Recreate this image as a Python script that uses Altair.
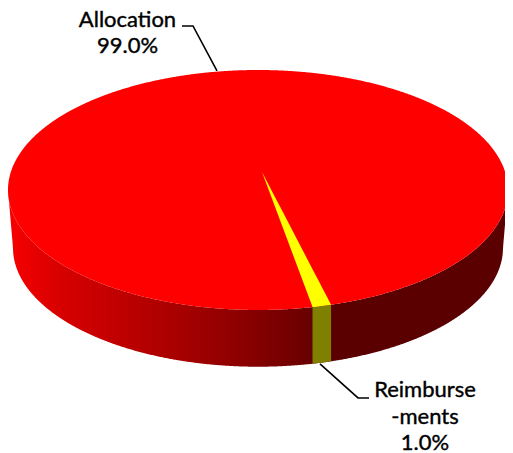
import math
import altair as alt
import pandas as pd

# Values
slices = ["Allocation", "Reimbursements"]
shares = [99.0, 1.0]

# Disc geometry in disc units (rim half-width = 1, rim half-depth = 1)
START_DEG = 12.6        # start of the small slice, measured from the front of the disc
FORESHORTEN = 1.22      # perspective widening of the front slice
APEX_X, APEX_Y = 0.016, 0.15
WALL_CY, WALL_A, WALL_B = -0.483, 0.98, 0.99

leader_a_x = [-0.304, -0.260, -0.164]
leader_a_y = [1.367, 1.367, 0.992]
leader_b_x = [0.248, 0.400, 0.444]
leader_b_y = [-1.450, -1.733, -1.733]

label_text = ["Allocation", "99.0%", "Reimburse", "-ments", "1.0%"]
label_x = [-0.522, -0.522, 0.668, 0.668, 0.668]
label_y = [1.358, 1.142, -1.725, -1.950, -2.167]

X = alt.Scale(domain=[-1, 1], range=[0, 500], nice=False, zero=False)
Y = alt.Scale(domain=[-2.192, 1.5167], range=[445, 0], nice=False, zero=False)
ex = alt.X("x:Q", scale=X, axis=None)
ey = alt.Y("y:Q", scale=Y, axis=None)
ey2 = alt.Y2("y2:Q")


def rim(x):
    return math.sqrt(max(0.0, 1 - x * x))


def wall_bottom(x):
    if abs(x) >= WALL_A:
        return WALL_CY * (1 - abs(x)) / (1 - WALL_A)
    return WALL_CY - WALL_B * math.sqrt(1 - (x / WALL_A) ** 2)


steps = [-math.cos(math.pi * i / 720) for i in range(721)]
disc = pd.DataFrame({"x": steps, "y": [rim(v) for v in steps], "y2": [-rim(v) for v in steps]})
wall = pd.DataFrame({"x": steps, "y": [-rim(v) for v in steps], "y2": [wall_bottom(v) for v in steps]})

t0 = math.radians(START_DEG)
t1 = t0 + math.radians(shares[1] / 100 * 360 * FORESHORTEN)
x0, x1 = math.sin(t0), math.sin(t1)
y0, y1 = -math.cos(t0), -math.cos(t1)

wedge_rows = []
for i in range(11):
    x = APEX_X + (x0 - APEX_X) * i / 10
    f = x - APEX_X
    wedge_rows.append({
        "x": x,
        "y": APEX_Y + (y0 - APEX_Y) * f / (x0 - APEX_X),
        "y2": APEX_Y + (y1 - APEX_Y) * f / (x1 - APEX_X),
    })
for i in range(1, 11):
    x = x0 + (x1 - x0) * i / 10
    wedge_rows.append({
        "x": x,
        "y": -rim(x),
        "y2": APEX_Y + (y1 - APEX_Y) * (x - APEX_X) / (x1 - APEX_X),
    })
wedge = pd.DataFrame(wedge_rows)

band_x = [x0 + (x1 - x0) * i / 10 for i in range(11)]
band = pd.DataFrame({"x": band_x, "y": [-rim(v) for v in band_x], "y2": [wall_bottom(v) for v in band_x]})

wall_fill = alt.Gradient(
    gradient="linear", x1=0, x2=1, y1=0, y2=0,
    stops=[
        alt.GradientStop(offset=0.0, color="#f80000"),
        alt.GradientStop(offset=0.10, color="#d80000"),
        alt.GradientStop(offset=0.28, color="#b40000"),
        alt.GradientStop(offset=0.45, color="#900000"),
        alt.GradientStop(offset=0.58, color="#700000"),
        alt.GradientStop(offset=0.64, color="#5a0000"),
        alt.GradientStop(offset=1.0, color="#5a0000"),
    ],
)

wall_layer = alt.Chart(wall).mark_area(color=wall_fill).encode(x=ex, y=ey, y2=ey2)
band_layer = alt.Chart(band).mark_area(color="#808000").encode(x=ex, y=ey, y2=ey2)
disc_layer = alt.Chart(disc).mark_area(color="#ff0000").encode(x=ex, y=ey, y2=ey2)
wedge_layer = alt.Chart(wedge).mark_area(color="#ffff00").encode(x=ex, y=ey, y2=ey2)


def leader(xs, ys):
    d = pd.DataFrame({"x": xs, "y": ys, "o": list(range(len(xs)))})
    return alt.Chart(d).mark_line(color="#000000", strokeWidth=1.6).encode(x=ex, y=ey, order="o:Q")


labels = alt.Chart(pd.DataFrame({"x": label_x, "y": label_y, "t": label_text})).mark_text(
    font="Lato", fontSize=22, color="#000000", stroke="#000000", strokeWidth=0.4,
    align="center", baseline="alphabetic",
).encode(x=ex, y=ey, text="t:N")

chart = alt.layer(
    wall_layer, band_layer, disc_layer, wedge_layer,
    leader(leader_a_x, leader_a_y), leader(leader_b_x, leader_b_y), labels,
).properties(
    width=497, height=445, padding=0, autosize=alt.AutoSizeParams(type="none"), background="#ffffff",
).configure_view(stroke=None)

chart.save("out.html", embed_options={"renderer": "svg", "actions": False})
